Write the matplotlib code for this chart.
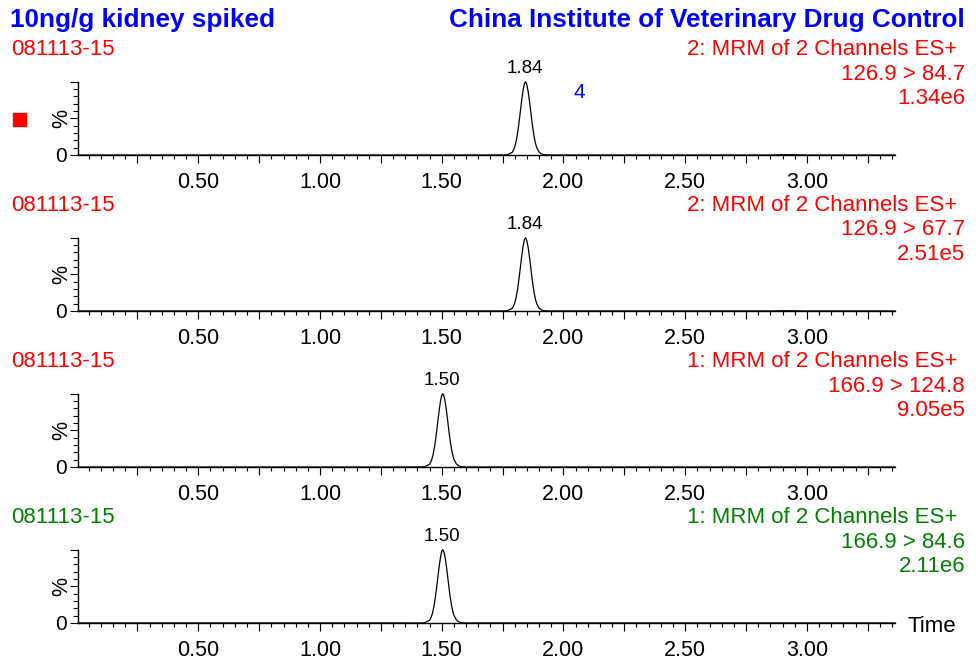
import matplotlib
matplotlib.use("Agg")
import matplotlib.pyplot as plt
from matplotlib.ticker import MultipleLocator, FuncFormatter

plt.rcParams['font.family'] = ['Liberation Sans', 'DejaVu Sans']

# ---------------- data ----------------
title_left = "10ng/g kidney spiked"
title_right = "China Institute of Veterinary Drug Control"
sample_ids = ["081113-15", "081113-15", "081113-15", "081113-15"]
functions = ["2: MRM of 2 Channels ES+", "2: MRM of 2 Channels ES+",
             "1: MRM of 2 Channels ES+", "1: MRM of 2 Channels ES+"]
transitions = ["126.9 > 84.7", "126.9 > 67.7", "166.9 > 124.8", "166.9 > 84.6"]
intensities = ["1.34e6", "2.51e5", "9.05e5", "2.11e6"]
peak_labels = ["1.84", "1.84", "1.50", "1.50"]
peak_rts = [1.84, 1.84, 1.50, 1.50]
text_colors = ["#FF0000", "#FF0000", "#FF0000", "#008000"]

# peak at 1.84 (traces 1, 2)
time_a = [0.007, 1.70, 1.76, 1.77, 1.78, 1.79, 1.795, 1.80, 1.805, 1.81, 1.815,
          1.82, 1.825, 1.83, 1.835, 1.84, 1.845, 1.85, 1.855, 1.86, 1.865,
          1.87, 1.875, 1.88, 1.885, 1.89, 1.90, 1.91, 1.92, 1.94, 2.85,
          2.90, 2.95, 3.00, 3.362]
resp_a = [0, 0, 0.1, 0.5, 2.0, 3.8, 6.7, 11.2, 17.7, 26.6, 37.8,
          50.9, 64.9, 78.4, 89.7, 97.8, 99.5, 95.0, 86.5, 74.5, 61.0,
          47.0, 34.5, 24.0, 16.0, 10.2, 4.0, 1.4, 0.4, 0, 0,
          0.4, 0.3, 0, 0]
# peak at 1.50 (traces 3, 4)
time_b = [0.007, 1.35, 1.42, 1.43, 1.44, 1.45, 1.455, 1.46, 1.465, 1.47, 1.475,
          1.48, 1.485, 1.49, 1.495, 1.50, 1.505, 1.51, 1.515, 1.52, 1.525,
          1.53, 1.535, 1.54, 1.545, 1.55, 1.56, 1.57, 1.58, 1.60, 3.362]
resp_b = [0, 0, 0.1, 0.5, 2.0, 3.8, 6.7, 11.2, 17.7, 26.6, 37.8,
          50.9, 64.9, 78.4, 89.7, 97.8, 99.6, 95.5, 87.0, 75.0, 61.5,
          47.5, 35.0, 24.5, 16.5, 10.5, 4.2, 1.5, 0.5, 0, 0]
traces = [(time_a, resp_a), (time_a, resp_a), (time_b, resp_b), (time_b, resp_b)]

# ---------------- layout ----------------
W, H = 976, 661
fig = plt.figure(figsize=(W / 100, H / 100), dpi=100)


def fx(x):
    return x / W


def fy(y):
    return 1 - y / H


ax_left, ax_right = 78.3, 895.0
panel_step = 156
BLUE = "#0000FF"
FS_INFO = 16

fig.text(fx(10), fy(27), title_left, color=BLUE, fontsize=18.8,
         fontweight='bold', ha='left', va='baseline')
fig.text(fx(965), fy(27), title_right, color=BLUE, fontsize=18.8,
         fontweight='bold', ha='right', va='baseline')

for i in range(4):
    off = i * panel_step
    top, bottom = 81.5 + off, 155 + off
    ax = fig.add_axes([fx(ax_left), fy(bottom), fx(ax_right - ax_left),
                       (bottom - top) / H])
    t, r = traces[i]
    ax.plot(t, r, color='black', lw=0.9, clip_on=False)
    ax.set_xlim(0.007, 3.362)
    ax.set_ylim(0, 100)
    for s in ('top', 'right'):
        ax.spines[s].set_visible(False)
    for s in ('left', 'bottom'):
        ax.spines[s].set_linewidth(1.0)
    ax.xaxis.set_major_locator(MultipleLocator(0.25))
    ax.xaxis.set_minor_locator(MultipleLocator(0.05))
    ax.xaxis.set_major_formatter(FuncFormatter(
        lambda v, p: f"{v:.2f}" if abs(v / 0.5 - round(v / 0.5)) < 1e-6 and v > 0.01 else ""))
    ax.tick_params(axis='x', which='major', direction='out', length=6,
                   width=0.8, pad=6.5, labelsize=15.5)
    ax.tick_params(axis='x', which='minor', direction='out', length=3, width=0.8)
    ax.yaxis.set_major_locator(MultipleLocator(50))
    ax.yaxis.set_minor_locator(MultipleLocator(10))
    ax.tick_params(axis='y', which='major', direction='out', length=6,
                   width=0.8, labelleft=False)
    ax.tick_params(axis='y', which='minor', direction='out', length=3.5, width=0.8)

    ax.annotate(peak_labels[i], xy=(peak_rts[i], 100), xytext=(0, 3.5),
                textcoords='offset points', ha='center', va='bottom',
                fontsize=13.5, color='black', annotation_clip=False)

    c = text_colors[i]
    fig.text(fx(11), fy(55 + off), sample_ids[i], color=c, fontsize=FS_INFO,
             ha='left', va='baseline')
    fig.text(fx(957), fy(55 + off), functions[i], color=c, fontsize=FS_INFO,
             ha='right', va='baseline')
    fig.text(fx(965), fy(79.5 + off), transitions[i], color=c, fontsize=FS_INFO,
             ha='right', va='baseline')
    fig.text(fx(965), fy(103.5 + off), intensities[i], color=c, fontsize=FS_INFO,
             ha='right', va='baseline')
    fig.text(fx(61.5), fy(118.5 + off), "%", fontsize=15.5, rotation=90,
             ha='center', va='center')
    fig.text(fx(61.5), fy(156.5 + off), "0", fontsize=15,
             ha='center', va='center')

# panel 1 extras
fig.patches.append(plt.Rectangle((fx(13), fy(125.5)), fx(13), 13 / H,
                                 transform=fig.transFigure, color='#FF0000'))
fig.text(fx(579), fy(92.5), "4", color=BLUE, fontsize=15, ha='center', va='center')
fig.text(fx(907), fy(631.5), "Time", fontsize=16, ha='left', va='baseline')

fig.savefig("out.png", dpi=100)
